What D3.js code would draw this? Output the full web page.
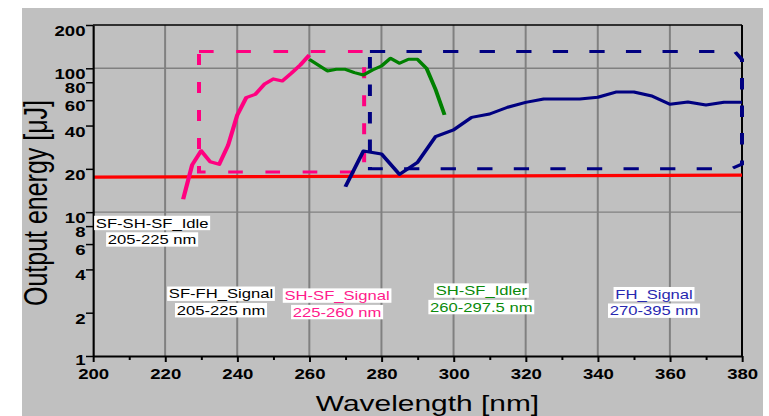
<!DOCTYPE html>
<html>
<head>
<meta charset="utf-8">
<script src="https://cdn.jsdelivr.net/npm/d3@7"></script>
<style>
  html, body { margin: 0; padding: 0; background: #ffffff; }
  svg { display: block; }
  text { font-family: "Liberation Sans", Arial, sans-serif; }
</style>
</head>
<body>
<svg id="chart" width="769" height="416"></svg>
<script>
// ---- data ----
const xTickValues = [200, 220, 240, 260, 280, 300, 320, 340, 360, 380];
const xMinorValues = [210, 230, 250, 270, 290, 310, 330, 350, 370];
const yTickValues = [1, 2, 4, 6, 8, 10, 20, 40, 60, 80, 100, 200];
const yGridValues = [10, 100];

// SH-SF signal
const shsfSignalWl = [225, 227.5, 230, 232.5, 235, 237.5, 240, 242.5, 245, 247.5, 250, 252.5, 255, 257.5, 260];
const shsfSignalE  = [12.3, 21.3, 26.7, 22.4, 21.5, 29.3, 47.3, 62.5, 65.9, 77.4, 84.3, 81.6, 92.3, 105.4, 123.7];

// SH-SF idler
const shsfIdlerWl = [260, 265, 267.5, 270, 272.5, 275, 277.5, 280, 282.5, 285, 287.5, 290, 292.5, 295, 297.5];
const shsfIdlerE  = [115.5, 95.8, 98.4, 98.4, 93.2, 89.8, 97.3, 103.8, 117.3, 108.4, 115.5, 115.5, 100, 71.4, 47.4];

// FH signal
const fhSignalWl = [270, 275, 280, 285, 290, 295, 300, 305, 310, 315, 320, 325, 330, 335, 340, 345, 350, 355, 360, 365, 370, 375, 380];
const fhSignalE  = [15.0, 26.6, 25.4, 18.3, 22.2, 33.5, 37.3, 45.6, 48.1, 53.6, 58.0, 61.2, 61.2, 61.2, 62.9, 68.4, 68.4, 64.2, 56.2, 58.3, 55.6, 58.0, 58.0];

// threshold line
const thresholdWl = [200, 380];
const thresholdE  = [17.5, 18.1];

// tuning ranges (dashed outlines)
const shsfRangeWl = [229.4, 275.2, 275.2, 229.4, 229.4];
const shsfRangeE  = [131, 131, 19, 19, 131];
const fhRangeWl = [276.8, 378, 380, 380, 377, 276.8, 276.8];
const fhRangeE  = [131, 131, 115, 21.6, 20, 20, 131];

// annotation labels (anchored in wavelength / energy units)
const labelLines  = [["SF-SH-SF_Idle", "205-225 nm"], ["SF-FH_Signal", "205-225 nm"], ["SH-SF_Signal", "225-260 nm"], ["SH-SF_Idler", "260-297.5 nm"], ["FH_Signal", "270-395 nm"]];
const labelWl     = [216.4, 235.5, 267.7, 307.7, 355.6];
const labelE      = [8.41, 2.71, 2.63, 2.85, 2.69];
const labelColors = ["#000000", "#000000", "#ff1a8c", "#0a8a0a", "#2828b0"];

// ---- layout ----
const sx = 1.33; // horizontal stretch of the whole drawing
const plot = { left: 93, right: 742, top: 25, bottom: 356 };

const svg = d3.select("#chart");
svg.append("rect").attr("x", 22).attr("y", 8).attr("width", 741).attr("height", 408).attr("fill", "#c0c0c0");

const g = svg.append("g").attr("transform", `scale(${sx},1)`);

const x = d3.scaleLinear().domain([200, 380]).range([plot.left / sx, plot.right / sx]);
const y = d3.scaleLog().domain([1, 200]).range([plot.bottom, plot.top]);

// grid
g.append("g").selectAll("line").data(xTickValues.slice(1, -1)).join("line")
  .attr("x1", d => x(d)).attr("x2", d => x(d))
  .attr("y1", plot.top).attr("y2", plot.bottom)
  .attr("stroke", "#808080").attr("stroke-width", 1.5);
g.append("g").selectAll("line").data(yGridValues).join("line")
  .attr("x1", x(200)).attr("x2", x(380))
  .attr("y1", d => y(d)).attr("y2", d => y(d))
  .attr("stroke", "#808080").attr("stroke-width", 1.4);

// frame top / right
g.append("line").attr("x1", x(200)).attr("x2", x(380)).attr("y1", plot.top).attr("y2", plot.top)
  .attr("stroke", "#000").attr("stroke-width", 1.6);
g.append("line").attr("x1", x(380)).attr("x2", x(380)).attr("y1", plot.top).attr("y2", plot.bottom)
  .attr("stroke", "#000").attr("stroke-width", 1.5);

const line = d3.line().x(d => x(d[0])).y(d => y(d[1]));
const zip = (a, b) => a.map((v, i) => [v, b[i]]);

// threshold
g.append("path").datum(zip(thresholdWl, thresholdE)).attr("d", line)
  .attr("fill", "none").attr("stroke", "#ff0000").attr("stroke-width", 3.2);

// SH-SF range outline
g.append("path").datum(zip(shsfRangeWl, shsfRangeE)).attr("d", line)
  .attr("fill", "none").attr("stroke", "#ff0080").attr("stroke-width", 3)
  .attr("stroke-dasharray", "11,17");

// SH-SF signal
g.append("path").datum(zip(shsfSignalWl, shsfSignalE)).attr("d", line)
  .attr("fill", "none").attr("stroke", "#ff0080").attr("stroke-width", 3.2)
  .attr("stroke-linejoin", "round");

// SH-SF idler
g.append("path").datum(zip(shsfIdlerWl, shsfIdlerE)).attr("d", line)
  .attr("fill", "none").attr("stroke", "#008000").attr("stroke-width", 3)
  .attr("stroke-linejoin", "round");

// FH range outline
g.append("path").datum(zip(fhRangeWl, fhRangeE)).attr("d", line)
  .attr("fill", "none").attr("stroke", "#000080").attr("stroke-width", 3)
  .attr("stroke-dasharray", "11.5,16");

// FH signal
g.append("path").datum(zip(fhSignalWl, fhSignalE)).attr("d", line)
  .attr("fill", "none").attr("stroke", "#000080").attr("stroke-width", 3)
  .attr("stroke-linejoin", "round");

// x axis
const xAxisMajor = d3.axisBottom(x).tickValues(xTickValues).tickSize(6).tickSizeOuter(0)
  .tickFormat(d3.format("d"));
const gx = g.append("g").attr("transform", `translate(0,${plot.bottom})`).call(xAxisMajor);
gx.select(".domain").attr("stroke", "#000").attr("stroke-width", 2);
gx.selectAll(".tick line").attr("stroke", "#000").attr("stroke-width", 1.5);
gx.selectAll(".tick text").attr("y", 23).attr("dy", null)
  .attr("font-size", 14).attr("font-weight", "bold").attr("fill", "#000")
  .attr("font-family", "'Liberation Sans', Arial, sans-serif");

const xAxisMinor = d3.axisBottom(x).tickValues(xMinorValues).tickSize(4).tickSizeOuter(0).tickFormat("");
const gxm = g.append("g").attr("transform", `translate(0,${plot.bottom})`).call(xAxisMinor);
gxm.select(".domain").remove();
gxm.selectAll(".tick line").attr("stroke", "#000").attr("stroke-width", 1.5);

// y axis
const yAxis = d3.axisLeft(y).tickValues(yTickValues).tickSize(7 / sx).tickSizeOuter(0)
  .tickFormat(d3.format("d"));
const gy = g.append("g").attr("transform", `translate(${x(200)},0)`).call(yAxis);
gy.select(".domain").attr("stroke", "#000").attr("stroke-width", 1.6);
gy.selectAll(".tick line").attr("stroke", "#000").attr("stroke-width", 1.5);
gy.selectAll(".tick text").attr("x", -7.5 / sx).attr("y", d => d === 1 ? 8.5 : 10.5).attr("dy", null)
  .attr("font-size", 14).attr("font-weight", "bold").attr("fill", "#000")
  .attr("font-family", "'Liberation Sans', Arial, sans-serif");

// axis titles
g.append("text")
  .attr("transform", `translate(${46.5 / sx},203) rotate(-90)`)
  .attr("text-anchor", "middle").attr("font-size", 25).attr("fill", "#000")
  .text("Output energy [\u03bcJ]");
g.append("text")
  .attr("x", 427.5 / sx).attr("y", 411.5)
  .attr("text-anchor", "middle").attr("font-size", 22.5).attr("fill", "#000")
  .text("Wavelength [nm]");

// annotation labels with white backing
labelLines.forEach((lines, i) => {
  const cx = x(labelWl[i]);
  const cy = y(labelE[i]);
  lines.forEach((t, j) => {
    const ly = cy + j * 16.5;
    const grp = g.append("g");
    const rect = grp.append("rect").attr("fill", "#ffffff");
    const txt = grp.append("text")
      .attr("x", cx).attr("y", ly + 4.6)
      .attr("text-anchor", "middle").attr("font-size", 12.5)
      .attr("fill", labelColors[i]).text(t);
    const bb = txt.node().getBBox();
    rect.attr("x", bb.x - 1.3).attr("width", bb.width + 2.6)
      .attr("y", ly - 7.2).attr("height", 14.4);
  });
});
</script>
</body>
</html>
